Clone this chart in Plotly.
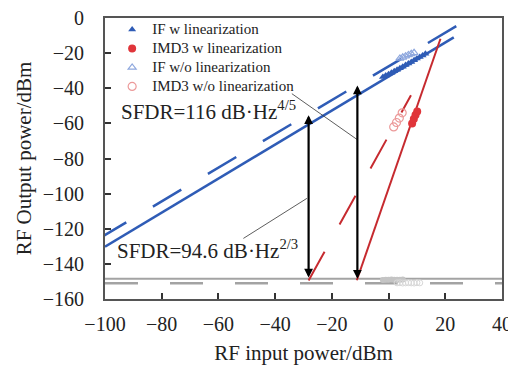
import plotly.graph_objects as go

# ---- data ----
# fitted lines (x in dBm input, y in dBm output)
if_w_fit_x = [-100, 23]
if_w_fit_y = [-130.2, -11.0]
if_wo_fit_x = [-102.5, 24]
if_wo_fit_y = [-126.0, -4.5]
imd3_w_fit_x = [-11.2, 18.3]
imd3_w_fit_y = [-149.3, -11.8]
imd3_wo_fit_x = [-28.2, 7.9]
imd3_wo_fit_y = [-149.5, -44.0]
noise_floor_x = [-100, 40]
noise_floor_w = [-148.5, -148.5]
noise_floor_wo = [-151.0, -151.0]

# measured points
if_w_x = [-2, -1, 0, 1, 2, 3, 4, 5, 6, 7, 8, 9, 10, 11, 12, 13]
if_w_y = [-33.6, -32.8, -32.0, -31.2, -30.3, -29.5, -28.6, -27.7, -26.8, -25.9, -25.0, -24.1, -23.1, -22.2, -21.3, -20.3]
if_wo_x = [4, 5, 6, 7, 8, 9]
if_wo_y = [-23.0, -22.4, -21.7, -21.0, -20.4, -19.8]
imd3_w_x = [8.3, 8.9, 9.5, 10.1]
imd3_w_y = [-60.0, -57.5, -55.3, -53.2]
imd3_wo_x = [1.8, 2.8, 3.8, 4.8]
imd3_wo_y = [-62.0, -59.5, -57.0, -54.0]
nf_pts_w_x = [-2, -1, 0, 1, 2, 3, 4, 5]
nf_pts_w_y = [-149.2, -149.0, -149.1, -148.9, -149.0, -149.1, -149.0, -148.9]
nf_pts_wo_x = [3, 4, 5, 6, 7, 8, 9, 10, 11]
nf_pts_wo_y = [-150.8, -150.7, -150.9, -150.8, -150.7, -150.8, -150.9, -150.7, -150.8]

# SFDR arrows: (x, top, bottom)
sfdr_wo = (-28.2, -55.4, -148.6)
sfdr_w = (-11.0, -38.4, -149.3)

series_names = ["IF w linearization", "IMD3 w linearization",
                "IF w/o linearization", "IMD3 w/o linearization"]
x_ticks = [-100, -80, -60, -40, -20, 0, 20, 40]
y_ticks = [-160, -140, -120, -100, -80, -60, -40, -20, 0]

BLUE = "#2f5cb6"
RED = "#c62a2f"
GRAY = "#a3a3a3"
FONT = "Liberation Serif"


def legend_name(s):
    return '<span style="font-size:15px">' + s + '</span>'


fig = go.Figure()

# noise floor lines
fig.add_trace(go.Scatter(x=noise_floor_x, y=noise_floor_w, mode="lines",
                         line=dict(color=GRAY, width=2), showlegend=False))
fig.add_trace(go.Scatter(x=noise_floor_x, y=noise_floor_wo, mode="lines",
                         line=dict(color=GRAY, width=2.5, dash="33px,32px"), showlegend=False))
# noise floor points
fig.add_trace(go.Scatter(x=nf_pts_w_x, y=nf_pts_w_y, mode="markers",
                         marker=dict(symbol="circle", size=6, color="#c4c4c4"), showlegend=False))
fig.add_trace(go.Scatter(x=nf_pts_wo_x, y=nf_pts_wo_y, mode="markers",
                         marker=dict(symbol="circle-open", size=6, color="#d8d8d8"), showlegend=False))

# fit lines
fig.add_trace(go.Scatter(x=if_w_fit_x, y=if_w_fit_y, mode="lines",
                         line=dict(color=BLUE, width=2.5), showlegend=False))
fig.add_trace(go.Scatter(x=if_wo_fit_x, y=if_wo_fit_y, mode="lines",
                         line=dict(color=BLUE, width=2.5, dash="33px,31px"), showlegend=False))
fig.add_trace(go.Scatter(x=imd3_w_fit_x, y=imd3_w_fit_y, mode="lines",
                         line=dict(color=RED, width=2), showlegend=False))
fig.add_trace(go.Scatter(x=imd3_wo_fit_x, y=imd3_wo_fit_y, mode="lines",
                         line=dict(color=RED, width=2, dash="33px,31px"), showlegend=False))

# measured markers (legend)
fig.add_trace(go.Scatter(x=if_w_x, y=if_w_y, mode="markers", name=legend_name(series_names[0]),
                         marker=dict(symbol="triangle-up", size=7, color=BLUE)))
fig.add_trace(go.Scatter(x=imd3_w_x, y=imd3_w_y, mode="markers", name=legend_name(series_names[1]),
                         marker=dict(symbol="circle", size=8, color="#e0353a")))
fig.add_trace(go.Scatter(x=if_wo_x, y=if_wo_y, mode="markers", name=legend_name(series_names[2]),
                         marker=dict(symbol="triangle-up-open", size=7, color="#8fa8de",
                                     line=dict(width=1.2))))
fig.add_trace(go.Scatter(x=imd3_wo_x, y=imd3_wo_y, mode="markers", name=legend_name(series_names[3]),
                         marker=dict(symbol="circle-open", size=8, color="#ec9a9a",
                                     line=dict(width=1.2))))

annotations = []
for (xa, top, bot) in (sfdr_wo, sfdr_w):
    annotations.append(dict(x=xa, y=top, ax=xa, ay=bot, xref="x", yref="y", axref="x", ayref="y",
                            text="", showarrow=True, arrowhead=2, startarrowhead=2,
                            arrowside="end+start", arrowsize=0.8, startarrowsize=0.8,
                            arrowwidth=2.2, arrowcolor="black", standoff=0, startstandoff=0))
annotations.append(dict(x=-95.1, y=-52.7, xref="x", yref="y", xanchor="left", yanchor="middle",
                        text="SFDR=116 dB·Hz<sup>4/5</sup>", showarrow=False,
                        font=dict(family=FONT, size=21, color="#222")))
annotations.append(dict(x=-96.6, y=-131.8, xref="x", yref="y", xanchor="left", yanchor="middle",
                        text="SFDR=94.6 dB·Hz<sup>2/3</sup>", showarrow=False,
                        font=dict(family=FONT, size=21, color="#222")))

shapes = [
    dict(type="line", xref="x", yref="y", x0=-34.1, y0=-43.1, x1=-11.1, y1=-69.2,
         line=dict(color="#333", width=0.8)),
    dict(type="line", xref="x", yref="y", x0=-51.2, y0=-125.5, x1=-28.8, y1=-102.7,
         line=dict(color="#333", width=0.8)),
]

# page has an 8px body margin, so the figure is sized/placed to compensate
fig.update_layout(
    width=508, height=357,
    margin=dict(l=97, r=14, t=9.5, b=66, autoexpand=False),
    paper_bgcolor="white", plot_bgcolor="white",
    font=dict(family=FONT, color="#222"),
    annotations=annotations, shapes=shapes,
    legend=dict(x=0.018, y=1.011, xanchor="left", yanchor="top",
                bgcolor="rgba(0,0,0,0)", font=dict(family=FONT, size=12, color="#222"),
                tracegroupgap=0),
)
fig.update_xaxes(range=[-100, 40], tickvals=x_ticks, ticks="inside", ticklen=6, tickwidth=1.5,
                 tickcolor="#333", showline=True, linecolor="#555", linewidth=1.8, mirror=True,
                 showgrid=False, zeroline=False, ticklabelstandoff=6, automargin=False,
                 ticklabeloverflow="allow",
                 tickfont=dict(family=FONT, size=20, color="#222"),
                 title=dict(text="RF input power/dBm", font=dict(family=FONT, size=21, color="#222"),
                            standoff=12))
fig.update_yaxes(range=[-160, 0], tickvals=y_ticks, ticks="inside", ticklen=6, tickwidth=1.5,
                 tickcolor="#333", showline=True, linecolor="#555", linewidth=1.8, mirror=True,
                 showgrid=False, zeroline=False, ticklabelstandoff=15, automargin=False,
                 ticklabeloverflow="allow",
                 tickfont=dict(family=FONT, size=20, color="#222"),
                 title=dict(text="RF Output power/dBm", font=dict(family=FONT, size=21, color="#222"),
                            standoff=5))

fig.write_html("out.html")
